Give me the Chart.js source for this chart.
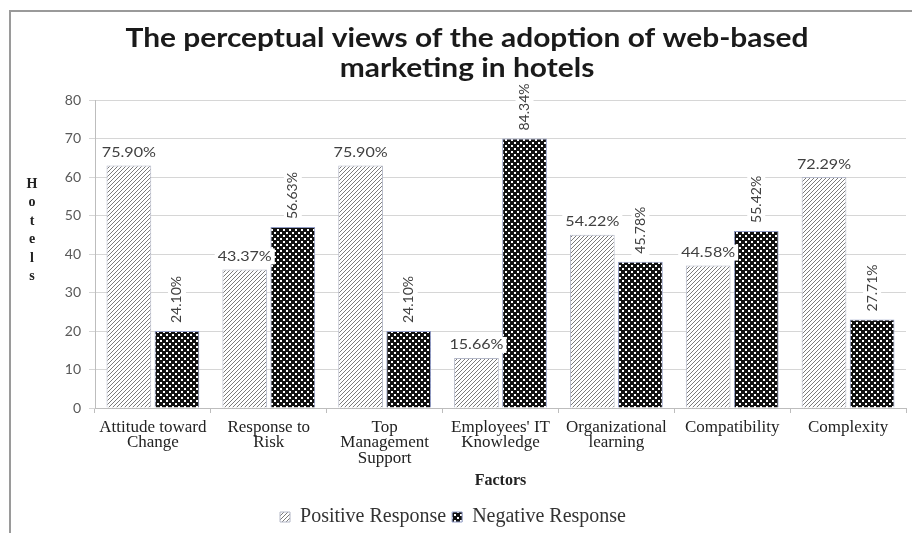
<!DOCTYPE html>
<html>
<head>
<meta charset="utf-8">
<script src="https://cdn.jsdelivr.net/npm/chart.js@4.4.1/dist/chart.umd.min.js"></script>
<style>
  body { margin: 0; background: #fff; }
  #wrap { position: relative; width: 912px; height: 533px; }
</style>
</head>
<body>
<div id="wrap"><canvas id="bar-chart" width="912" height="533"></canvas></div>
<script>
// data (number of hotels, n = 83)
var factors = [
  ["Attitude toward", "Change"],
  ["Response to", "Risk"],
  ["Top", "Management", "Support"],
  ["Employees' IT", "Knowledge"],
  ["Organizational", "learning"],
  ["Compatibility"],
  ["Complexity"]
];
var positive = [63, 36, 63, 13, 45, 37, 60];
var negative = [20, 47, 20, 70, 38, 46, 23];
var positiveLabels = ["75.90%", "43.37%", "75.90%", "15.66%", "54.22%", "44.58%", "72.29%"];
var negativeLabels = ["24.10%", "56.63%", "24.10%", "84.34%", "45.78%", "55.42%", "27.71%"];
var yTicks = [0, 10, 20, 30, 40, 50, 60, 70, 80];
var titleLines = ["The perceptual views of the adoption of web-based", "marketing in hotels"];

// the source picture is stretched sideways a bit
var STRETCH = 1.15;

// hatch fills like the excel patterns
function makePattern(kind) {
  var t = document.createElement('canvas');
  var c = t.getContext('2d');
  if (kind === 'pos') {
    t.width = 4; t.height = 4;
    c.fillStyle = '#ffffff';
    c.fillRect(0, 0, 4, 4);
    c.fillStyle = '#7a7a7a';
    c.fillRect(0, 3, 1, 1);
    c.fillRect(1, 2, 1, 1);
    c.fillRect(2, 1, 1, 1);
    c.fillRect(3, 0, 1, 1);
  } else {
    t.width = 6; t.height = 6;
    c.fillStyle = '#111111';
    c.fillRect(0, 0, 6, 6);
    c.fillStyle = '#ffffff';
    c.fillRect(1, 1, 2, 2);
    c.fillRect(4, 4, 2, 2);
  }
  return c.createPattern(t, 'repeat');
}

function stretchedText(ctx, txt, x, y) {
  ctx.save();
  ctx.translate(x, y);
  ctx.scale(STRETCH, 1);
  ctx.fillText(txt, 0, 0);
  ctx.restore();
}

var frameAndLabels = {
  id: 'frameAndLabels',
  beforeDraw: function(chart) {
    var ctx = chart.ctx;
    ctx.save();
    ctx.strokeStyle = '#9a9a9a';
    ctx.lineWidth = 2;
    ctx.beginPath();
    ctx.moveTo(10, 533);
    ctx.lineTo(10, 11);
    ctx.lineTo(912, 11);
    ctx.stroke();
    ctx.restore();
  },
  afterDraw: function(chart) {
    var ctx = chart.ctx;
    ctx.save();
    ctx.textAlign = 'center';
    ctx.textBaseline = 'middle';

    // title
    ctx.font = 'bold 26px Lato';
    ctx.fillStyle = '#1a1a1a';
    stretchedText(ctx, titleLines[0], 467, 39);
    stretchedText(ctx, titleLines[1], 467, 69);

    // stacked axis title
    ctx.font = 'bold 14px "Liberation Serif"';
    ctx.fillStyle = '#222';
    "Hotels".split('').forEach(function(ch, i) {
      ctx.fillText(ch, 32, 184 + i * 18.5);
    });

    // value labels
    ctx.font = '14px Lato';
    chart.getDatasetMeta(0).data.forEach(function(bar, i) {
      var txt = positiveLabels[i];
      var w = ctx.measureText(txt).width * STRETCH;
      var cy = bar.y - 13;
      ctx.fillStyle = '#fff';
      ctx.fillRect(bar.x - w / 2 - 3, cy - 8, w + 6, 16);
      ctx.fillStyle = '#404040';
      stretchedText(ctx, txt, bar.x, cy);
    });
    chart.getDatasetMeta(1).data.forEach(function(bar, i) {
      var txt = negativeLabels[i];
      var w = ctx.measureText(txt).width;
      ctx.save();
      ctx.translate(bar.x, bar.y - 8 - w / 2);
      ctx.rotate(-Math.PI / 2);
      ctx.fillStyle = '#fff';
      ctx.fillRect(-w / 2 - 3, -9, w + 6, 18);
      ctx.fillStyle = '#404040';
      ctx.fillText(txt, 0, 0);
      ctx.restore();
    });
    ctx.restore();
  }
};

new Chart(document.getElementById("bar-chart"), {
  type: 'bar',
  data: {
    labels: factors,
    datasets: [
      {
        label: "Positive Response",
        data: positive,
        backgroundColor: makePattern('pos'),
        borderColor: '#b4b8c8',
        borderWidth: 1
      }, {
        label: "Negative Response",
        data: negative,
        backgroundColor: makePattern('neg'),
        borderColor: '#8f9ac4',
        borderWidth: 1
      }
    ]
  },
  options: {
    responsive: false,
    animation: false,
    layout: { padding: { left: 0, right: 6, top: 100, bottom: -4 } },
    categoryPercentage: 0.83,
    barPercentage: 0.93,
    plugins: {
      tooltip: { enabled: false },
      title: { display: false },
      legend: {
        position: 'bottom',
        labels: {
          boxWidth: 10,
          boxHeight: 10,
          padding: 6,
          color: '#333',
          font: { family: '"Liberation Serif"', size: 20 }
        }
      }
    },
    scales: {
      x: {
        afterFit: function(scale) { scale.height = 93; },
        grid: { drawOnChartArea: false, drawTicks: true, tickLength: 5, color: '#bdbdbd' },
        border: { color: '#bdbdbd' },
        ticks: {
          autoSkip: false,
          maxRotation: 0,
          padding: 7,
          color: '#222',
          font: { family: '"Liberation Serif"', size: 17, lineHeight: 0.9 }
        },
        title: {
          display: true,
          text: 'Factors',
          color: '#222',
          font: { family: '"Liberation Serif"', size: 16, weight: 'bold' },
          padding: { top: 0, bottom: 11 }
        }
      },
      y: {
        min: 0,
        max: 80,
        afterFit: function(scale) { scale.width = 95; },
        afterBuildTicks: function(scale) {
          scale.ticks = yTicks.map(function(v) { return { value: v }; });
        },
        grid: { color: '#d6d6d6', tickLength: 6 },
        border: { color: '#bdbdbd' },
        ticks: {
          padding: 8,
          color: '#595959',
          font: { family: 'Lato', size: 14 }
        }
      }
    }
  },
  plugins: [frameAndLabels]
});
</script>
</body>
</html>
